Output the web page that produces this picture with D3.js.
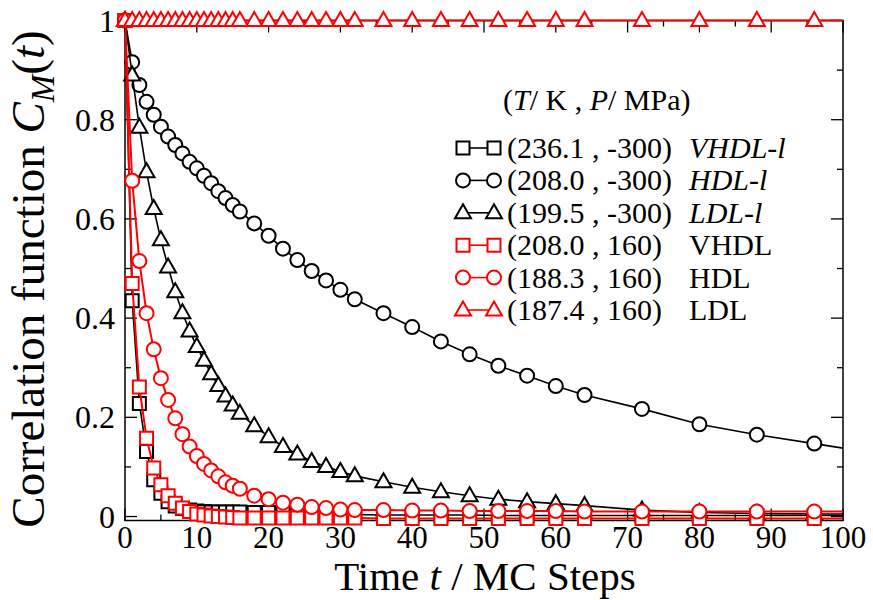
<!DOCTYPE html>
<html>
<head>
<meta charset="utf-8">
<script src="https://cdn.jsdelivr.net/npm/d3@7"></script>
<style>
  body { margin: 0; background: #fff; }
  text { font-family: "Liberation Serif", "Times New Roman", serif; fill: #000; }
</style>
</head>
<body>
<div id="chart"></div>
<script>
// MC steps at which C_M(t) was sampled (104 is only there so the lines run to the frame)
var steps = [0, 1, 2, 3, 4, 5, 6, 7, 8, 9, 10, 11, 12, 13, 14, 15, 16,
    18, 20, 22, 24, 26, 28, 30, 32, 36, 40, 44, 48, 52, 56, 60, 64, 72, 80, 88, 96, 104];

var vhdlL = [1, .435, .228, .131, .074, .047, .030, .021, .016, .013, .011, .010, .009, .009, .009, .009, .009,
    .008, .008, .006, .005, .005, .004, .004, .004, .003, .003, .003, .003, .002, .002, .002, .002, .002, .002, .002, .002, .002];
var hdlL = [1, .916, .870, .836, .810, .786, .766, .749, .732, .715, .702, .687, .672, .656, .642, .628, .615,
    .591, .566, .540, .517, .495, .476, .457, .438, .410, .382, .353, .327, .304, .284, .263, .245, .217, .186, .165, .147, .129];
var ldlL = [1, .890, .785, .695, .621, .558, .503, .453, .411, .374, .343, .315, .288, .264, .243, .225, .208,
    .183, .161, .141, .126, .111, .101, .091, .082, .070, .059, .050, .042, .035, .030, .026, .022, .013, .008, .006, .005, .005];
var vhdl = [1, .470, .261, .158, .098, .064, .042, .027, .017, .010, .005, .003, .001, .000, -.001, -.002, -.003,
    -.003, -.003, -.003, -.003, -.003, -.003, -.003, -.003, -.004, -.004, -.004, -.004, -.004, -.004, -.004, -.004, -.004, -.004, -.004, -.004, -.004];
var hdl = [1, .677, .515, .410, .337, .279, .235, .198, .166, .141, .122, .106, .093, .081, .069, .062, .056,
    .042, .035, .028, .024, .019, .017, .014, .013, .013, .012, .012, .011, .011, .011, .011, .010, .010, .010, .010, .010, .010];
var ldl = [1, 1, 1, 1, 1, 1, 1, 1, 1, 1, 1, 1, 1, 1, 1, 1, 1,
    1, 1, 1, 1, 1, 1, 1, 1, 1, 1, 1, 1, 1, 1, 1, 1, 1, 1, 1, 1, 1];

var stateLabels = ["(236.1 , -300)", "(208.0 , -300)", "(199.5 , -300)", "(208.0 , 160)", "(188.3 , 160)", "(187.4 , 160)"];
var phaseNames = ["VHDL-l", "HDL-l", "LDL-l", "VHDL", "HDL", "LDL"];

var xTicks = [0, 10, 20, 30, 40, 50, 60, 70, 80, 90, 100];
var yTicks = [0, 0.2, 0.4, 0.6, 0.8, 1];

// one entry per curve, drawing order = legend order
var series = [
    {values: vhdlL, color: "#000", shape: "square", name: phaseNames[0], state: stateLabels[0], italic: true},
    {values: hdlL, color: "#000", shape: "circle", name: phaseNames[1], state: stateLabels[1], italic: true},
    {values: ldlL, color: "#000", shape: "triangle", name: phaseNames[2], state: stateLabels[2], italic: true},
    {values: vhdl, color: "#f00", shape: "square", name: phaseNames[3], state: stateLabels[3], italic: false},
    {values: hdl, color: "#f00", shape: "circle", name: phaseNames[4], state: stateLabels[4], italic: false},
    {values: ldl, color: "#f00", shape: "triangle", name: phaseNames[5], state: stateLabels[5], italic: false}
];

var width = 873, height = 600;
var margin = {top: 20.5, right: 30, bottom: 79.5, left: 125};

var svg = d3.select("#chart").append("svg")
    .attr("width", width)
    .attr("height", height)
    .attr("font-family", "Liberation Serif, serif");

var x = d3.scaleLinear().domain([0, 100]).range([margin.left, width - margin.right]);
var y = d3.scaleLinear().domain([-0.008, 1]).range([height - margin.bottom, margin.top]);

var x0 = x.range()[0], x1 = x.range()[1], y0 = y.range()[0], y1 = y.range()[1];

svg.append("clipPath").attr("id", "clip")
    .append("rect")
    .attr("x", x0).attr("y", 0)
    .attr("width", x1 - x0).attr("height", height);

//frame
svg.append("rect")
    .attr("x", x0).attr("y", y1)
    .attr("width", x1 - x0).attr("height", y0 - y1)
    .attr("fill", "none")
    .attr("stroke", "#000")
    .attr("stroke-width", 1.5);

// inward ticks on all four sides
var major = 12, minor = 6;
var xMinor = d3.range(5, 100, 10);
var yMinor = d3.range(0.1, 1, 0.2);

var ticks = svg.append("g").attr("stroke", "#000").attr("stroke-width", 1.3);
xTicks.concat(xMinor).forEach(function(t){
    var len = xTicks.indexOf(t) >= 0 ? major : minor;
    ticks.append("line").attr("x1", x(t)).attr("x2", x(t)).attr("y1", y0).attr("y2", y0 - len);
    ticks.append("line").attr("x1", x(t)).attr("x2", x(t)).attr("y1", y1).attr("y2", y1 + len);
});
yTicks.concat(yMinor).forEach(function(t){
    var len = yTicks.indexOf(t) >= 0 ? major : minor;
    ticks.append("line").attr("y1", y(t)).attr("y2", y(t)).attr("x1", x0).attr("x2", x0 + len);
    ticks.append("line").attr("y1", y(t)).attr("y2", y(t)).attr("x1", x1).attr("x2", x1 - len);
});

//tick labels
svg.append("g").selectAll("text")
    .data(xTicks).enter().append("text")
    .attr("x", function(d){ return x(d); })
    .attr("y", 548)
    .attr("text-anchor", "middle")
    .style("font-size", "31px")
    .text(function(d){ return d; });

svg.append("g").selectAll("text")
    .data(yTicks).enter().append("text")
    .attr("x", 115)
    .attr("y", function(d){ return y(d) + 11; })
    .attr("text-anchor", "end")
    .style("font-size", "32px")
    .text(function(d){ return d3.format("~g")(d); });

//axis titles
var xTitle = svg.append("text")
    .attr("x", 485)
    .attr("y", 590)
    .attr("text-anchor", "middle")
    .style("font-size", "41px");
xTitle.append("tspan").text("Time ");
xTitle.append("tspan").style("font-style", "italic").text("t");
xTitle.append("tspan").text(" / MC Steps");

var yTitle = svg.append("text")
    .attr("transform", "translate(44,279) rotate(-90)")
    .attr("text-anchor", "middle")
    .style("font-size", "47px");
yTitle.append("tspan").text("Correlation function ");
yTitle.append("tspan").style("font-style", "italic").text("C");
yTitle.append("tspan").style("font-style", "italic").style("font-size", "33px").attr("dy", 10).text("M");
yTitle.append("tspan").attr("dy", -10).text("(");
yTitle.append("tspan").style("font-style", "italic").text("t");
yTitle.append("tspan").text(")");

// marker paths centred on 0,0
function markerPath(shape){
    if (shape == "square"){
        return "M-6.5,-6.5H6.5V6.5H-6.5Z";
    }
    else if (shape == "circle"){
        return "M7,0A7,7 0 1,1 -7,0A7,7 0 1,1 7,0Z";
    }
    else {
        return "M0,-8.5L8,5.5H-8Z";
    }
}

var line = d3.line()
    .x(function(d){ return x(d.t); })
    .y(function(d){ return y(d.v); });

series.forEach(function(s){
    var pts = steps.map(function(t, i){ return {t: t, v: s.values[i]}; });
    var g = svg.append("g");
    g.append("path")
        .datum(pts)
        .attr("clip-path", "url(#clip)")
        .attr("d", line)
        .attr("fill", "none")
        .attr("stroke", s.color)
        .attr("stroke-width", s.color == "#f00" ? 2 : 1.6);
    g.selectAll(".mark")
        .data(pts.filter(function(d){ return d.t <= 100; }))
        .enter().append("path")
        .attr("class", "mark")
        .attr("transform", function(d){ return "translate(" + x(d.t) + "," + y(d.v) + ")"; })
        .attr("d", markerPath(s.shape))
        .attr("fill", "#fff")
        .attr("stroke", s.color)
        .attr("stroke-width", 2);
});

//legend
var legend = svg.append("g");
var head = legend.append("text")
    .attr("x", 503).attr("y", 110)
    .style("font-size", "30px");
head.append("tspan").text("(");
head.append("tspan").style("font-style", "italic").text("T");
head.append("tspan").text("/ K , ");
head.append("tspan").style("font-style", "italic").text("P");
head.append("tspan").text("/ MPa)");

series.forEach(function(s, i){
    var cy = 148 + i * 32.4;
    var row = legend.append("g");
    row.append("line")
        .attr("x1", 463).attr("x2", 494)
        .attr("y1", cy).attr("y2", cy)
        .attr("stroke", s.color).attr("stroke-width", 1.6);
    [463, 494].forEach(function(mx){
        row.append("path")
            .attr("transform", "translate(" + mx + "," + cy + ")")
            .attr("d", markerPath(s.shape))
            .attr("fill", "#fff")
            .attr("stroke", s.color)
            .attr("stroke-width", 2);
    });
    row.append("text")
        .attr("x", 507).attr("y", cy + 10)
        .style("font-size", "30px")
        .text(s.state);
    row.append("text")
        .attr("x", 689).attr("y", cy + 10)
        .style("font-size", "30px")
        .style("font-style", s.italic ? "italic" : "normal")
        .text(s.name);
});
</script>
</body>
</html>
